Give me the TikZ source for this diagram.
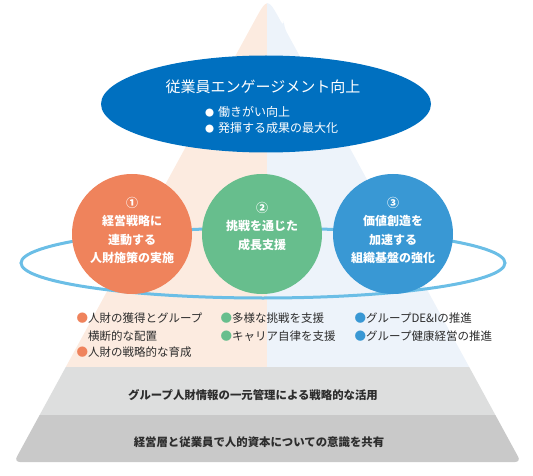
\documentclass[tikz,border=0pt]{standalone}
\usepackage{fontspec}
\setmainfont{Noto Sans CJK JP}
\usetikzlibrary{shapes.geometric}

\definecolor{peach}{RGB}{252,235,224}
\definecolor{paleblue}{RGB}{237,243,250}
\definecolor{bandlight}{RGB}{221,222,222}
\definecolor{banddark}{RGB}{201,201,201}
\definecolor{ringblue}{RGB}{107,190,230}
\definecolor{navy}{RGB}{0,112,192}
\definecolor{leadorange}{RGB}{239,131,92}
\definecolor{leadgreen}{RGB}{103,190,141}
\definecolor{leadblue}{RGB}{57,152,212}
\definecolor{textgray}{RGB}{45,45,45}

\begin{document}
\begin{tikzpicture}[
    x=1pt, y=-1pt,
    goal/.style={circle, minimum size=120pt, inner sep=0pt},
    goaltext/.style={text=white, align=center, inner sep=0pt, font=\bfseries\fontsize{12}{18.5}\selectfont},
    item/.style={anchor=west, inner sep=0pt, text=textgray, font=\fontsize{11.5}{14}\selectfont},
    baseline text/.style={inner sep=0pt, text=textgray, font=\bfseries\fontsize{11.4}{14}\selectfont},
    ring/.style={draw=ringblue, line width=3pt}
]
\useasboundingbox (0,0) rectangle (533,476);

% Pyramid
\begin{scope}
\clip[rounded corners=6pt] (283.8,26.9) -- (521,462) -- (14,462) -- (251.2,26.9)
    .. controls (267.5,-3) .. (283.8,26.9) -- cycle;
\fill[peach] (0,0) rectangle (267,367);
\fill[paleblue] (267,0) rectangle (533,367);
\fill[bandlight] (0,367) rectangle (533,415);
\fill[banddark] (0,415) rectangle (533,476);
\end{scope}

% Top goal
\node[ellipse, fill=navy, minimum width=330pt, minimum height=97pt, inner sep=0pt] (engage) at (266,104) {};
\node[text=white, inner sep=0pt, font=\fontsize{15}{15}\selectfont] (title) at (263,87) {従業員エンゲージメント向上};
\node[item, text=white, font=\fontsize{12}{14}\selectfont] (gain) at (205,112) {{\fontsize{9}{9}\selectfont●}\hspace{4pt}働きがい向上};
\node[item, text=white, font=\fontsize{12}{14}\selectfont] (result) at (205,128) {{\fontsize{9}{9}\selectfont●}\hspace{4pt}発揮する成果の最大化};

% Ring behind the three circles
\draw[ring] (263,263) ellipse [x radius=242pt, y radius=35pt];

% Three circles
\node[goal, fill=leadorange] (lead) at (132,234) {};
\node[goal, fill=leadgreen] (grow) at (262,234) {};
\node[goal, fill=leadblue] (base) at (393,234) {};
\node[goaltext] (leadtext) at ([yshift=3.5pt]lead.center) {①\\経営戦略に\\連動する\\人財施策の実施};
\node[goaltext] (growtext) at ([yshift=7.5pt]grow.center) {②\\挑戦を通じた\\成長支援};
\node[goaltext] (basetext) at ([yshift=3.5pt]base.center) {③\\価値創造を\\加速する\\組織基盤の強化};

% Measures
\node[item] (m1) at (76.4,318) {{\color{leadorange}●}人財の獲得とグループ};
\node[item] (m1b) at (76.4,336) {\hphantom{●}横断的な配置};
\node[item] (m2) at (76.4,352) {{\color{leadorange}●}人財の戦略的な育成};
\node[item] (m3) at (220.5,318) {{\color{leadgreen}●}多様な挑戦を支援};
\node[item] (m4) at (220.5,336) {{\color{leadgreen}●}キャリア自律を支援};
\node[item] (m5) at (354.5,318) {{\color{leadblue}●}グループDE\&Iの推進};
\node[item] (m6) at (354.5,336) {{\color{leadblue}●}グループ健康経営の推進};

% Foundations
\node[baseline text] (info) at (253,395) {グループ人財情報の一元管理による戦略的な活用};
\node[baseline text] (share) at (259,442) {経営層と従業員で人的資本についての意識を共有};

\end{tikzpicture}
\end{document}
